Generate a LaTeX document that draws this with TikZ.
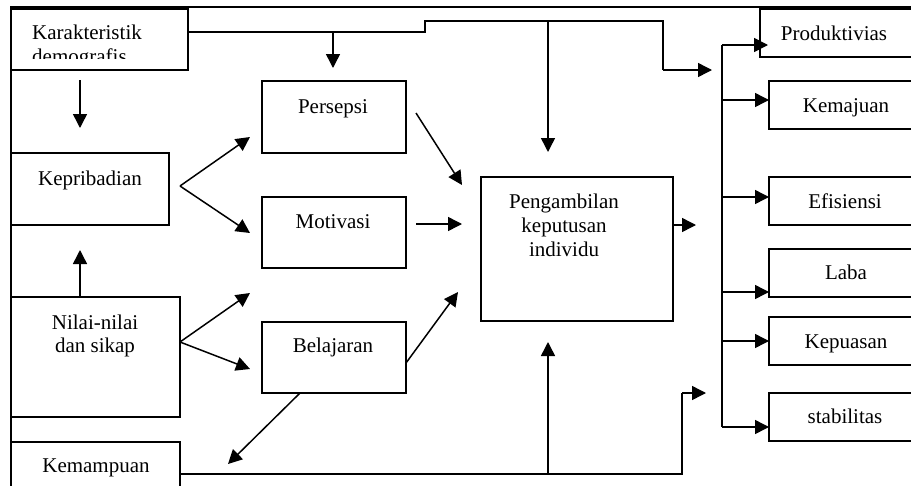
\documentclass[tikz,border=0pt]{standalone}
\usepackage{fontspec}
\setmainfont{Liberation Serif}
\usetikzlibrary{arrows.meta}
\begin{document}
\begin{tikzpicture}[x=1pt,y=-1pt,
  box/.style={draw,line width=1.5pt,rectangle,inner sep=0pt,outer sep=0pt,anchor=north west},
  txt/.style={anchor=base,inner sep=0pt,font=\fontsize{21}{24}\selectfont},
  conn/.style={line width=1.5pt},
  arr/.style={line width=1.5pt,-{Triangle[length=14pt,width=14pt]}}]
\useasboundingbox (0,0) rectangle (911,485);
\clip (0,0) rectangle (911,485);
\fill[white] (0,0) rectangle (911,485);
% outer frame
\coordinate (fbl) at (11,490);
\coordinate (ftl) at (11,7);
\coordinate (ftr) at (920,7);
\draw[line width=1.5pt] (fbl) -- (ftl) -- (ftr);
% boxes
\node[box,minimum width=177pt,minimum height=61pt] (kar) at (11,9) {};
\node[box,minimum width=144pt,minimum height=72pt] (pers) at (262,81) {};
\node[box,minimum width=158pt,minimum height=72pt] (kep) at (11,153) {};
\node[box,minimum width=144pt,minimum height=71pt] (mot) at (262,197) {};
\node[box,minimum width=169pt,minimum height=120pt] (nil) at (11,297) {};
\node[box,minimum width=144pt,minimum height=71pt] (bel) at (262,322) {};
\node[box,minimum width=169pt,minimum height=70pt] (kem) at (11,442) {};
\node[box,minimum width=192pt,minimum height=144pt] (peng) at (481,177) {};
\node[box,minimum width=180pt,minimum height=48pt] (prod) at (760,9) {};
\node[box,minimum width=170pt,minimum height=48pt] (kemaj) at (769,81) {};
\node[box,minimum width=170pt,minimum height=48pt] (efi) at (769,177) {};
\node[box,minimum width=170pt,minimum height=48pt] (laba) at (769,249) {};
\node[box,minimum width=170pt,minimum height=48pt] (kepu) at (769,317) {};
\node[box,minimum width=170pt,minimum height=48pt] (stab) at (769,393) {};
% texts
\node[txt,anchor=base west] (tkar) at (32,39) {Karakteristik};
\begin{scope}
\clip (11,9) rectangle (188,58);
\node[txt,anchor=base west] (tdem) at (32,63) {demografis};
\end{scope}
\node[txt] (tpers) at (333,113) {Persepsi};
\node[txt] (tkep) at (90,185) {Kepribadian};
\node[txt] (tmot) at (333,228) {Motivasi};
\node[txt] (tnil1) at (95,329) {Nilai-nilai};
\node[txt] (tnil2) at (95,352) {dan sikap};
\node[txt] (tbel) at (333,352) {Belajaran};
\node[txt] (tkem) at (96,472) {Kemampuan};
\node[txt] (tpeng1) at (564,208) {Pengambilan};
\node[txt] (tpeng2) at (564,232) {keputusan};
\node[txt] (tpeng3) at (564,256) {individu};
\node[txt] (tprod) at (834,40) {Produktivias};
\node[txt] (tkemaj) at (846,112) {Kemajuan};
\node[txt] (tefi) at (845,208) {Efisiensi};
\node[txt] (tlaba) at (846,279) {Laba};
\node[txt] (tkepu) at (846,348) {Kepuasan};
\node[txt] (tstab) at (845,423) {stabilitas};
% top route from Karakteristik
\coordinate (j1) at (425,32);
\coordinate (j2) at (425,21);
\coordinate (j3) at (663,21);
\coordinate (j4) at (663,70);
\coordinate (a1) at (712,70);
\draw[conn] (kar.east |- j1) -- (j1) -- (j2) -- (j3) -- (j4);
\draw[arr] (j4) -- (a1);
\coordinate (b1) at (333,32);
\coordinate (b1e) at (333,68);
\draw[arr] (b1) -- (b1e);
\coordinate (b2) at (548,21);
\coordinate (b2e) at (548,152);
\draw[arr] (b2) -- (b2e);
% Karakteristik -> Kepribadian
\coordinate (kk1) at (80,80);
\coordinate (kk2) at (80,128);
\draw[arr] (kk1) -- (kk2);
% Nilai -> Kepribadian
\coordinate (nk2) at (80,250);
\draw[arr] (nil.north -| nk2) -- (nk2);
% Kepribadian fork
\coordinate (kap) at (180,186);
\coordinate (kp1) at (250,137);
\coordinate (kp2) at (250,233);
\draw[arr] (kap) -- (kp1);
\draw[arr] (kap) -- (kp2);
% Nilai fork
\coordinate (nap) at (180,342);
\coordinate (np1) at (250,293);
\coordinate (np2) at (250,369);
\draw[arr] (nap) -- (np1);
\draw[arr] (nap) -- (np2);
% into Pengambilan
\coordinate (pp1) at (416,113);
\coordinate (pp2) at (462,185);
\draw[arr] (pp1) -- (pp2);
\coordinate (mp1) at (416,224);
\coordinate (mp2) at (462,224);
\draw[arr] (mp1) -- (mp2);
\coordinate (bp1) at (406,363);
\coordinate (bp2) at (458,292);
\draw[arr] (bp1) -- (bp2);
% Belajaran -> Kemampuan
\coordinate (bk1) at (300,393);
\coordinate (bk2) at (228,464);
\draw[arr] (bk1) -- (bk2);
% Kemampuan route
\coordinate (m1) at (682,474);
\coordinate (m2) at (682,393);
\coordinate (m3) at (706,393);
\draw[conn] (kem.east |- m1) -- (m1) -- (m2);
\draw[arr] (m2) -- (m3);
\coordinate (mb1) at (548,474);
\coordinate (mb2) at (548,342);
\draw[arr] (mb1) -- (mb2);
% Pengambilan out
\coordinate (po) at (696,225);
\draw[arr] (peng.east |- po) -- (po);
% bus
\coordinate (bt) at (722,45);
\coordinate (bb) at (722,427);
\draw[conn] (bt) -- (bb);
\coordinate (e1) at (722,100);
\coordinate (e2) at (722,197);
\coordinate (e3) at (722,292);
\coordinate (e4) at (722,341);
\draw[arr] (bt) -- ([xshift=8pt]prod.west |- bt);
\draw[arr] (e1) -- (kemaj.west |- e1);
\draw[arr] (e2) -- (efi.west |- e2);
\draw[arr] (e3) -- (laba.west |- e3);
\draw[arr] (e4) -- (kepu.west |- e4);
\draw[arr] (bb) -- (stab.west |- bb);
\end{tikzpicture}
\end{document}
